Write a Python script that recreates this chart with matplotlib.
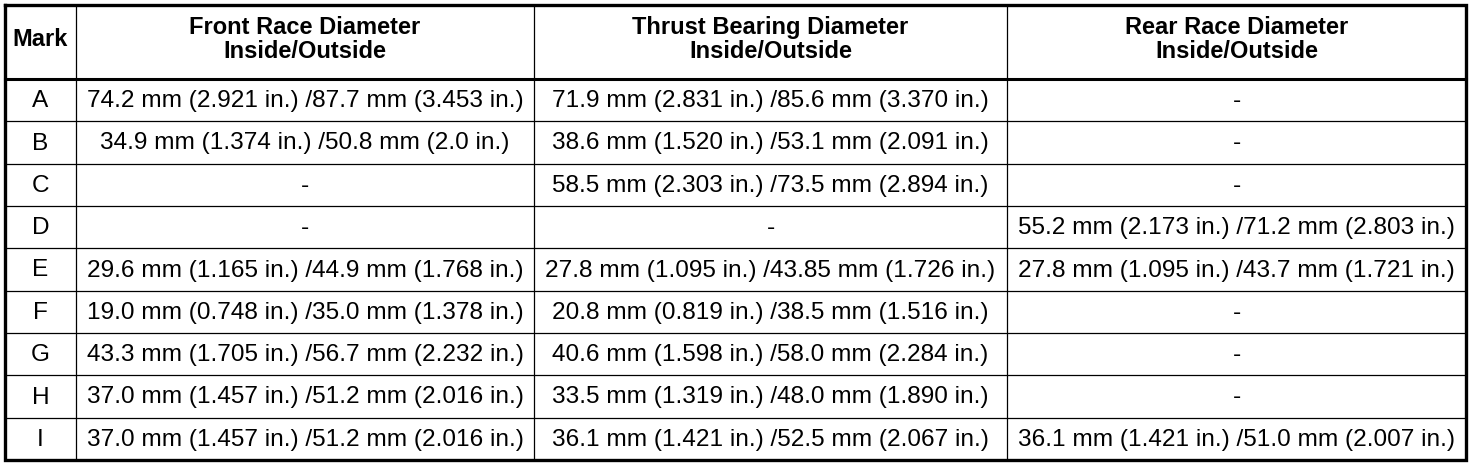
import matplotlib
matplotlib.use("Agg")
import matplotlib.pyplot as plt

plt.rcParams["font.family"] = ["Liberation Sans", "DejaVu Sans"]

headers = ["Mark", "Front Race Diameter\nInside/Outside",
           "Thrust Bearing Diameter\nInside/Outside",
           "Rear Race Diameter\nInside/Outside"]

marks = ["A", "B", "C", "D", "E", "F", "G", "H", "I"]

front = [
    "74.2 mm (2.921 in.) /87.7 mm (3.453 in.)",
    "34.9 mm (1.374 in.) /50.8 mm (2.0 in.)",
    "-",
    "-",
    "29.6 mm (1.165 in.) /44.9 mm (1.768 in.)",
    "19.0 mm (0.748 in.) /35.0 mm (1.378 in.)",
    "43.3 mm (1.705 in.) /56.7 mm (2.232 in.)",
    "37.0 mm (1.457 in.) /51.2 mm (2.016 in.)",
    "37.0 mm (1.457 in.) /51.2 mm (2.016 in.)",
]

thrust = [
    "71.9 mm (2.831 in.) /85.6 mm (3.370 in.)",
    "38.6 mm (1.520 in.) /53.1 mm (2.091 in.)",
    "58.5 mm (2.303 in.) /73.5 mm (2.894 in.)",
    "-",
    "27.8 mm (1.095 in.) /43.85 mm (1.726 in.)",
    "20.8 mm (0.819 in.) /38.5 mm (1.516 in.)",
    "40.6 mm (1.598 in.) /58.0 mm (2.284 in.)",
    "33.5 mm (1.319 in.) /48.0 mm (1.890 in.)",
    "36.1 mm (1.421 in.) /52.5 mm (2.067 in.)",
]

rear = [
    "-",
    "-",
    "-",
    "55.2 mm (2.173 in.) /71.2 mm (2.803 in.)",
    "27.8 mm (1.095 in.) /43.7 mm (1.721 in.)",
    "-",
    "-",
    "-",
    "36.1 mm (1.421 in.) /51.0 mm (2.007 in.)",
]

# layout in pixels
W, H = 1472, 466
col_edges = [5, 76, 534, 1007, 1466]
top, header_bottom, bottom = 5, 79, 460
row_h = (bottom - header_bottom) / len(marks)
row_edges = [header_bottom + i * row_h for i in range(len(marks) + 1)]

fig = plt.figure(figsize=(W / 100, H / 100), dpi=100)
ax = fig.add_axes([0, 0, 1, 1])
ax.set_xlim(0, W)
ax.set_ylim(H, 0)
ax.axis("off")

# grid lines
for y in row_edges[1:-1]:
    ax.plot([col_edges[0], col_edges[-1]], [y, y], color="black", lw=0.9)
for x in col_edges[1:-1]:
    ax.plot([x, x], [top, bottom], color="black", lw=0.9)
ax.plot([col_edges[0], col_edges[-1]], [header_bottom, header_bottom], color="black", lw=2.2)
ax.plot([col_edges[0], col_edges[-1], col_edges[-1], col_edges[0], col_edges[0]],
        [top, top, bottom, bottom, top], color="black", lw=2.4, solid_joinstyle="miter")

# header
for i, h in enumerate(headers):
    cx = (col_edges[i] + col_edges[i + 1]) / 2
    ax.text(cx, 39.5, h, ha="center", va="center",
            fontsize=17, fontweight="bold", linespacing=1.08)

# body
columns = [marks, front, thrust, rear]
for r in range(len(marks)):
    cy = (row_edges[r] + row_edges[r + 1]) / 2 + 1
    for c, col in enumerate(columns):
        cx = (col_edges[c] + col_edges[c + 1]) / 2
        ax.text(cx, cy, col[r], ha="center", va="center", fontsize=17.6)

fig.savefig("out.png", dpi=100)
